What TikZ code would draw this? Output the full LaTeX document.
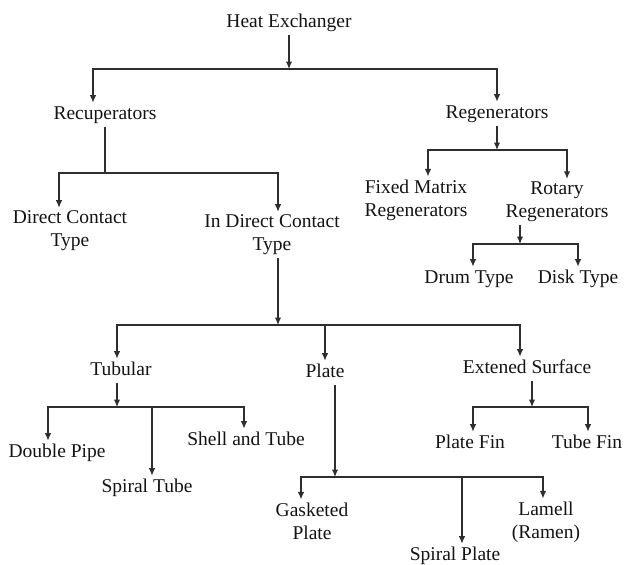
\documentclass[tikz,border=0pt]{standalone}
\usepackage{fontspec}
\setmainfont{Liberation Serif}
\usepackage{tikz}
\usetikzlibrary{arrows.meta}
\definecolor{inkgray}{HTML}{141414}
\definecolor{linegray}{HTML}{2E2E2E}
\tikzset{
  item/.style={font=\fontsize{19.5}{23}\selectfont, text=inkgray, inner sep=3pt, text height=14pt, text depth=4.3pt},
  item2/.style={font=\fontsize{19.5}{23}\selectfont, text=inkgray, inner sep=3pt, align=center},
  wire/.style={draw=linegray, line width=1.2pt},
  arrow/.style={wire, -{Latex[length=7.5pt,width=6.5pt]}}
}

\begin{document}
\begin{tikzpicture}[x=1pt, y=-1pt]
    \fill[white] (0,0) rectangle (625,565);
    \useasboundingbox (0,0) rectangle (625,565);

    \node[item] (hx) at (289,23) {Heat Exchanger};
    \node[item] (rec) at (105,115) {Recuperators};
    \node[item] (reg) at (497,114) {Regenerators};
    \node[item2] (dct) at (70,231) {Direct Contact\\ Type};
    \node[item2] (idct) at (272,235) {In Direct Contact\\ Type};
    \node[item2] (fmr) at (416,200) {Fixed Matrix\\ Regenerators};
    \node[item2] (rot) at (557,202) {Rotary\\ Regenerators};
    \node[item] (drum) at (469,279) {Drum Type};
    \node[item] (disk) at (578,279) {Disk Type};
    \node[item] (tub) at (121,371) {Tubular};
    \node[item] (plate) at (325,373) {Plate};
    \node[item] (ext) at (527,369) {Extened Surface};
    \node[item] (dp) at (57,453) {Double Pipe};
    \node[item] (st) at (147,488) {Spiral Tube};
    \node[item] (sat) at (246,441) {Shell and Tube};
    \node[item] (pf) at (470,444) {Plate Fin};
    \node[item] (tf) at (587,444) {Tube Fin};
    \node[item2] (gp) at (312,521) {Gasketed\\ Plate};
    \node[item] (sp) at (455,556) {Spiral Plate};
    \node[item2] (lam) at (546,522) {Lamell\\ (Ramen)};

    \coordinate (hxM) at (289,69);
    \coordinate (hxL) at (93,69);
    \coordinate (hxR) at (497,69);
    \coordinate (recM) at (105,173);
    \coordinate (recL) at (59,173);
    \coordinate (recR) at (278,173);
    \coordinate (regM) at (497,150);
    \coordinate (regL) at (428,150);
    \coordinate (regR) at (567,150);
    \coordinate (rotM) at (520,244);
    \coordinate (rotL) at (473,244);
    \coordinate (rotR) at (578,244);
    \coordinate (idcM) at (278,325);
    \coordinate (idcL) at (117,325);
    \coordinate (idcC) at (325,325);
    \coordinate (idcR) at (520,325);
    \coordinate (tubM) at (117,407);
    \coordinate (tubL) at (48,407);
    \coordinate (tubC) at (152,407);
    \coordinate (tubR) at (244,407);
    \coordinate (extM) at (532,407);
    \coordinate (extL) at (473,407);
    \coordinate (extR) at (588,407);
    \coordinate (plM) at (335,477);
    \coordinate (plL) at (301,477);
    \coordinate (plC) at (462,477);
    \coordinate (plR) at (543,477);

    \draw[arrow] (hx) -- (hxM);
    \draw[arrow] (hxM) -- (hxL) -- (hxL |- rec.north);
    \draw[arrow] (hxM) -- (hxR) -- (hxR |- reg.north);

    \draw[wire] (rec) -- (recM);
    \draw[arrow] (recM) -- (recL) -- (recL |- dct.north);
    \draw[arrow] (recM) -- (recR) -- (recR |- idct.north);

    \draw[arrow] (reg) -- (regM);
    \draw[arrow] (regM) -- (regL) -- (regL |- fmr.north);
    \draw[arrow] (regM) -- (regR) -- (regR |- rot.north);

    \draw[arrow] (rotM |- rot.south) -- (rotM);
    \draw[arrow] (rotM) -- (rotL) -- (rotL |- drum.north);
    \draw[arrow] (rotM) -- (rotR) -- (rotR |- disk.north);

    \draw[arrow] (idcM |- idct.south) -- (idcM);
    \draw[arrow] (idcM) -- (idcL) -- (idcL |- tub.north);
    \draw[arrow] (idcC) -- (idcC |- plate.north);
    \draw[arrow] (idcM) -- (idcR) -- (idcR |- ext.north);

    \draw[arrow] (tubM |- tub.south) -- (tubM);
    \draw[arrow] (tubM) -- (tubL) -- (tubL |- dp.north);
    \draw[arrow] (tubC) -- (tubC |- st.north);
    \draw[arrow] (tubM) -- (tubR) -- (tubR |- sat.north);

    \draw[arrow] (extM |- ext.south) -- (extM);
    \draw[arrow] (extM) -- (extL) -- (extL |- pf.north);
    \draw[arrow] (extM) -- (extR) -- (extR |- tf.north);

    \draw[arrow] (plM |- plate.south) -- (plM);
    \draw[arrow] (plM) -- (plL) -- (plL |- gp.north);
    \draw[arrow] (plC) -- (plC |- sp.north);
    \draw[arrow] (plM) -- (plR) -- (plR |- lam.north);
\end{tikzpicture}
\end{document}
